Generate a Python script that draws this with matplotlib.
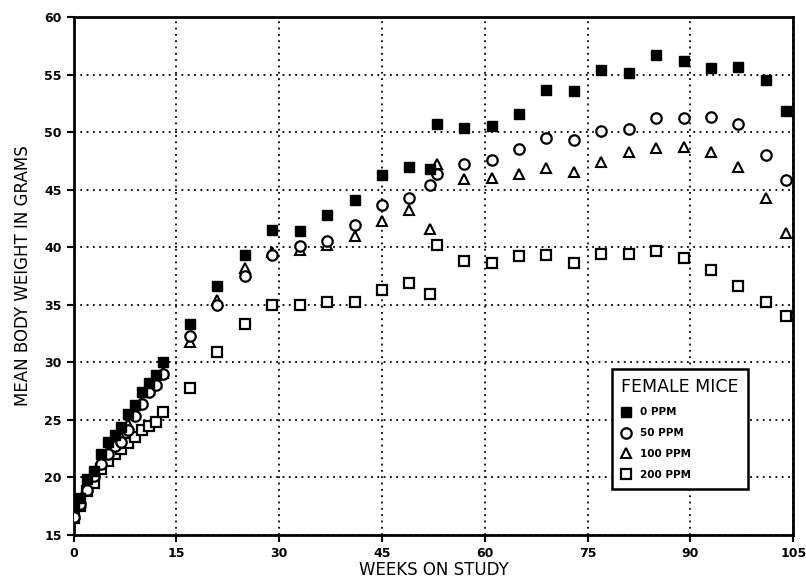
import numpy as np
import matplotlib
matplotlib.use('Agg')
from matplotlib import pyplot as plt

# 数据
weeks = [0, 1, 2, 3, 4, 5, 6, 7, 8, 9, 10, 11, 12, 13,
         17, 21, 25, 29, 33, 37, 41, 45, 49, 52, 53, 57, 61,
         65, 69, 73, 77, 81, 85, 89, 93, 97, 101, 104]

ppm_0 = [17.6, 18.2, 19.9, 20.6, 22.0, 23.1, 23.7, 24.4, 25.5, 26.3, 27.4, 28.2, 28.9, 30.0,
         33.3, 36.6, 39.3, 41.5, 41.4, 42.8, 44.1, 46.3, 47.0, 46.8, 50.7, 50.4, 50.5,
         51.6, 53.7, 53.6, 55.4, 55.1, 56.7, 56.2, 55.6, 55.7, 54.5, 51.8]

ppm_50 = [16.6, 17.7, 18.9, 20.1, 21.2, 22.0, 22.7, 23.1, 24.1, 25.3, 26.4, 27.4, 28.0, 29.0,
          32.3, 35.0, 37.5, 39.3, 40.1, 40.5, 41.9, 43.7, 44.3, 45.4, 46.4, 47.2, 47.6,
          48.5, 49.5, 49.3, 50.1, 50.3, 51.2, 51.2, 51.3, 50.7, 48.0, 45.8]

ppm_100 = [16.8, 17.9, 19.2, 20.3, 21.5, 22.3, 23.0, 23.5, 24.6, 25.5, 26.6, 27.6, 28.2, 29.1,
           31.8, 35.4, 38.2, 39.6, 39.8, 40.2, 41.0, 42.3, 43.2, 41.6, 47.2, 45.9, 46.0,
           46.4, 46.9, 46.5, 47.4, 48.3, 48.6, 48.7, 48.3, 47.0, 44.3, 41.2]

ppm_200 = [16.5, 17.5, 18.8, 19.5, 20.7, 21.4, 22.0, 22.5, 23.0, 23.5, 24.1, 24.5, 24.8, 25.7,
           27.8, 30.9, 33.3, 35.0, 35.0, 35.2, 35.2, 36.3, 36.9, 35.9, 40.2, 38.8, 38.6,
           39.2, 39.3, 38.6, 39.4, 39.4, 39.7, 39.1, 38.0, 36.6, 35.2, 34.0]

groups = ['0 PPM', '50 PPM', '100 PPM', '200 PPM']
x_ticks = [0, 15, 30, 45, 60, 75, 90, 105]
y_ticks = [15, 20, 25, 30, 35, 40, 45, 50, 55, 60]

fig = plt.figure(figsize=(8.06, 5.87), dpi=100)
ax = fig.add_axes([0.0912, 0.0886, 0.893, 0.8824])

# 散点：实心方块、空心圆、空心三角、空心方块
ax.plot(weeks, ppm_200, linestyle='none', marker='s', ms=7.5, mfc='white', mec='black', mew=1.6, label=groups[3], zorder=3)
ax.plot(weeks, ppm_100, linestyle='none', marker='^', ms=6.5, mfc='white', mec='black', mew=1.5, label=groups[2], zorder=4)
ax.plot(weeks, ppm_50, linestyle='none', marker='o', ms=7.5, mfc='white', mec='black', mew=1.6, label=groups[1], zorder=5)
ax.plot(weeks, ppm_0, linestyle='none', marker='s', ms=7.5, mfc='black', mec='black', mew=1.0, label=groups[0], zorder=6)

ax.set_xlim(0, 105)
ax.set_ylim(15, 60)
ax.set_xticks(x_ticks)
ax.set_yticks(y_ticks)
ax.tick_params(direction='out', length=5, width=1.5, colors='black')
for lab in ax.get_xticklabels():
    lab.set_fontsize(9)
    lab.set_fontweight('bold')
for lab in ax.get_yticklabels():
    lab.set_fontsize(9)
    lab.set_fontweight('bold')

ax.grid(True, color='black', linestyle=(0, (1, 2.5)), linewidth=1.3)
ax.set_axisbelow(True)
for sp in ax.spines.values():
    sp.set_linewidth(2)

ax.set_xlabel('WEEKS ON STUDY', fontsize=12, labelpad=1)
ax.set_ylabel('MEAN BODY WEIGHT IN GRAMS', fontsize=12, labelpad=9)

# 图例
handles, labels = ax.get_legend_handles_labels()
order = [3, 2, 1, 0]
leg = ax.legend([handles[i] for i in order], [labels[i] for i in order],
                title='FEMALE MICE', loc='lower left', bbox_to_anchor=(0.748, 0.088),
                frameon=True, fancybox=False, framealpha=1, edgecolor='black',
                prop={'size': 7.5, 'weight': 'bold'}, title_fontsize=12.5,
                handletextpad=0.8, labelspacing=1.05, borderpad=0.9, handlelength=1.0,
                borderaxespad=0)
leg.get_frame().set_linewidth(1.8)
leg._legend_box.align = 'left'

fig.savefig('out.png', dpi=100)
